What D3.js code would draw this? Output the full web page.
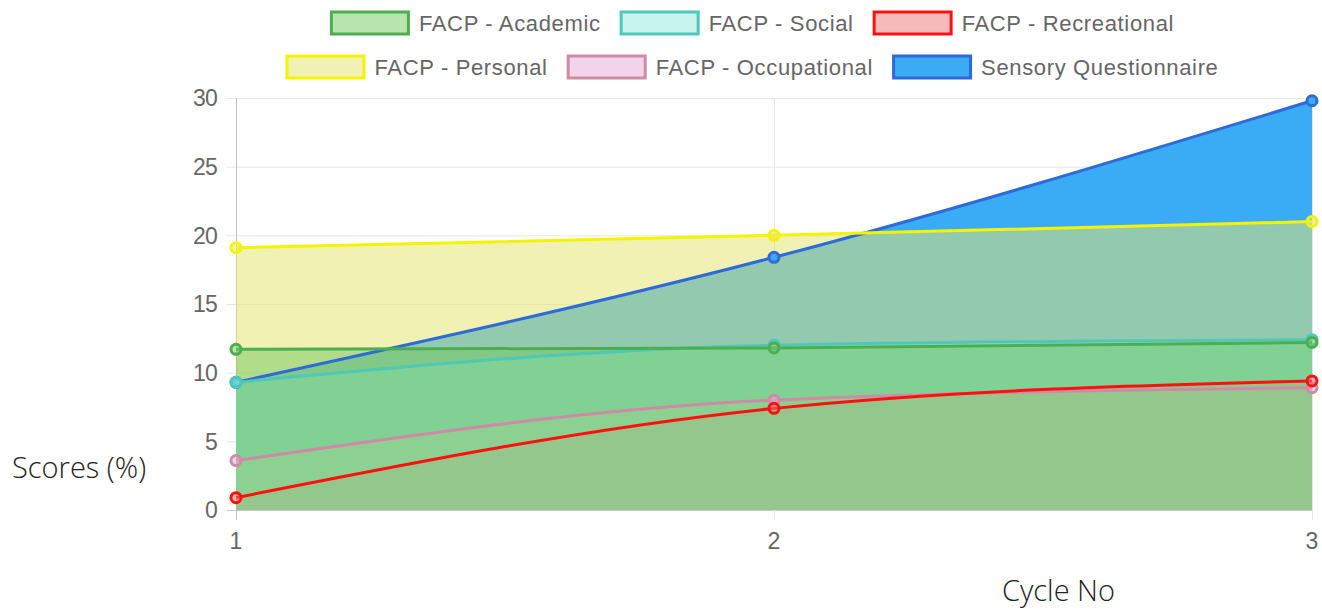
<!DOCTYPE html>
<html>
<head>
<meta charset="utf-8">
<script src="https://cdn.jsdelivr.net/npm/d3@7"></script>
<style>
  body { margin: 0; background: #fff; }
  svg { display: block; }
</style>
</head>
<body>
<div id="main-chart"></div>
<script>
var cycles = [1, 2, 3];
var yTicks = [0, 5, 10, 15, 20, 25, 30];

var seriesNames = ["FACP - Academic", "FACP - Social", "FACP - Recreational",
  "FACP - Personal", "FACP - Occupational", "Sensory Questionnaire"];

var academic = [11.7, 11.8, 12.2];
var social = [9.3, 12.0, 12.4];
var recreational = [0.9, 7.4, 9.4];
var personal = [19.1, 20.0, 21.0];
var occupational = [3.6, 8.0, 8.9];
var sensory = [9.3, 18.4, 29.8];

var strokeColors = ["#4cae50", "#4fc8b6", "#ff1010", "#f4f400", "#cf8aa6", "#2e6bd8"];
var fillColors = ["rgba(113,201,97,0.5)", "rgba(145,233,221,0.5)", "rgba(239,117,117,0.5)",
  "rgba(228,228,112,0.52)", "rgba(231,167,213,0.5)", "rgb(58,171,245)"];

var seriesValues = [academic, social, recreational, personal, occupational, sensory];

var width = 1322, height = 612;
var margin = { left: 236, right: 10, top: 98, bottom: 102 };

var svg = d3.select("#main-chart")
  .append("svg")
  .attr("width", width)
  .attr("height", height);

var x = d3.scaleLinear().domain([1, 3]).range([margin.left, width - margin.right]);
var y = d3.scaleLinear().domain([0, 30]).range([height - margin.bottom, margin.top]);

// grid
var grid = svg.append("g").attr("class", "grid");
grid.selectAll("line.h")
  .data(yTicks)
  .enter()
  .append("line")
  .attr("x1", x(1) - 9)
  .attr("x2", x(3))
  .attr("y1", d => y(d) + 0.5)
  .attr("y2", d => y(d) + 0.5)
  .attr("stroke", d => d === 0 ? "#c8c8c8" : "#e6e6e6")
  .attr("stroke-width", 1);

grid.selectAll("line.v")
  .data(cycles)
  .enter()
  .append("line")
  .attr("x1", d => x(d) + 0.5)
  .attr("x2", d => x(d) + 0.5)
  .attr("y1", y(30))
  .attr("y2", y(0) + 10)
  .attr("stroke", d => d === 1 ? "#c0c0c0" : "#e6e6e6")
  .attr("stroke-width", 1);

var area = d3.area()
  .x((d, i) => x(cycles[i]))
  .y0(y(0))
  .y1(d => y(d))
  .curve(d3.curveMonotoneX);

var line = d3.line()
  .x((d, i) => x(cycles[i]))
  .y(d => y(d))
  .curve(d3.curveMonotoneX);

// last dataset drawn first; all fills go under all lines
var order = d3.range(seriesValues.length).reverse();

var fills = svg.append("g").attr("class", "fills");
var lines = svg.append("g").attr("class", "lines");

order.forEach(function(k) {
  fills.append("path")
    .attr("d", area(seriesValues[k]))
    .attr("fill", fillColors[k]);
});

order.forEach(function(k) {
  var g = lines.append("g");
  g.append("path")
    .attr("d", line(seriesValues[k]))
    .attr("fill", "none")
    .attr("stroke", strokeColors[k])
    .attr("stroke-width", 3);
  g.selectAll("circle")
    .data(seriesValues[k])
    .enter()
    .append("circle")
    .attr("cx", (d, i) => x(cycles[i]))
    .attr("cy", d => y(d))
    .attr("r", 5)
    .attr("fill", fillColors[k])
    .attr("stroke", strokeColors[k])
    .attr("stroke-width", 3);
});

// tick labels
svg.append("g")
  .selectAll("text")
  .data(yTicks)
  .enter()
  .append("text")
  .attr("x", x(1) - 19)
  .attr("y", d => y(d))
  .attr("dy", "0.36em")
  .attr("text-anchor", "end")
  .attr("font-family", "Liberation Sans, Arial, sans-serif")
  .attr("font-size", 23)
  .attr("letter-spacing", -0.8)
  .attr("fill", "#666")
  .text(d => d);

svg.append("g")
  .selectAll("text")
  .data(cycles)
  .enter()
  .append("text")
  .attr("x", d => x(d))
  .attr("y", y(0) + 39)
  .attr("text-anchor", "middle")
  .attr("font-family", "Liberation Sans, Arial, sans-serif")
  .attr("font-size", 23)
  .attr("fill", "#666")
  .text(d => d);

// axis titles
svg.append("text")
  .attr("x", 12)
  .attr("y", 478)
  .attr("font-family", "Open Sans, Noto Sans, sans-serif")
  .attr("font-weight", 300)
  .attr("font-size", 29)
  .attr("fill", "#222")
  .text("Scores (%)");

svg.append("text")
  .attr("x", 1002)
  .attr("y", 601)
  .attr("font-family", "Open Sans, Noto Sans, sans-serif")
  .attr("font-weight", 300)
  .attr("font-size", 29)
  .attr("fill", "#222")
  .text("Cycle No");

// legend
var legendRows = [[0, 1, 2], [3, 4, 5]];
var rowY = [23, 67];
var boxW = 80, boxH = 25, textGap = 9, itemGap = 19, legendCenter = 752;

var legend = svg.append("g").attr("class", "legend");
legendRows.forEach(function(row, r) {
  var items = row.map(function(k) {
    var g = legend.append("g");
    var t = g.append("text")
      .attr("font-family", "Liberation Sans, Arial, sans-serif")
      .attr("font-size", 22)
      .attr("letter-spacing", 0.65)
      .attr("fill", "#666")
      .attr("dy", "0.36em")
      .text(seriesNames[k]);
    var w = t.node().getComputedTextLength();
    return { g: g, t: t, k: k, w: boxW + textGap + w };
  });
  var total = d3.sum(items, d => d.w) + itemGap * (items.length - 1);
  var cx = legendCenter - total / 2;
  items.forEach(function(it) {
    it.g.insert("rect", "text")
      .attr("x", cx + 1.5)
      .attr("y", rowY[r] - boxH / 2 + 1.5)
      .attr("width", boxW - 3)
      .attr("height", boxH - 3)
      .attr("fill", fillColors[it.k])
      .attr("stroke", strokeColors[it.k])
      .attr("stroke-width", 3);
    it.t.attr("x", cx + boxW + textGap).attr("y", rowY[r]);
    cx += it.w + itemGap;
  });
});
</script>
</body>
</html>
